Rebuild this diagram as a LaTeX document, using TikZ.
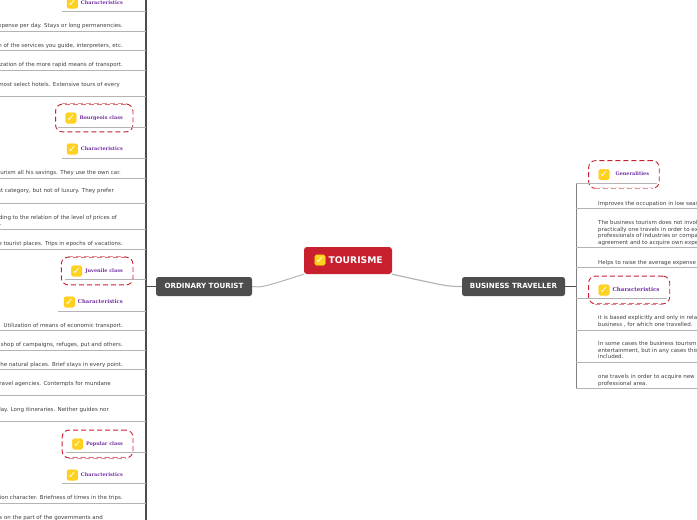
\documentclass[tikz,border=0pt]{standalone}
\usepackage{fontspec}
\setmainfont{DejaVu Sans}
\newfontfamily\labelfont{DejaVu Serif}
\usetikzlibrary{positioning, fit}
\definecolor{topicred}{HTML}{C8202F}
\definecolor{topicgrey}{HTML}{4D4D4D}
\definecolor{rulegrey}{HTML}{B4B4B4}
\definecolor{classpink}{HTML}{E08C98}
\definecolor{labelpurple}{HTML}{7030A0}
\definecolor{tickyellow}{HTML}{FFD21F}

\begin{document}
\begin{tikzpicture}[
    x=1pt, y=-1pt,
    central/.style={fill=topicred, rounded corners=3pt, minimum width=88pt, minimum height=27pt, inner sep=0pt},
    branch/.style={fill=topicgrey, rounded corners=2.5pt, minimum height=19pt, text=white, inner sep=0pt, text height=4pt, text depth=0pt, font=\fontsize{7.1}{8}\selectfont\bfseries},
    rowtext/.style={inner sep=0pt, text=black!75, font=\fontsize{5.5}{6.4}\selectfont, align=left},
    classlabel/.style={inner sep=0pt, text=labelpurple, text height=2.4pt, text depth=0pt, font=\fontsize{4.9}{6}\selectfont\labelfont\bfseries},
    biglabel/.style={classlabel, font=\fontsize{5.5}{6}\selectfont\labelfont\bfseries},
    tickbox/.style={fill=tickyellow, draw=orange!50!yellow, line width=0.3pt, rounded corners=1.5pt, minimum size=10.5pt, inner sep=0pt, text=white, font=\fontsize{10}{10}\selectfont},
    classbox/.style={draw=topicred, dashed, dash pattern=on 5pt off 3pt, line width=0.9pt, rounded corners=7pt, inner xsep=10pt, inner ysep=8.5pt},
    classedge/.style={dash pattern=on 5pt off 3pt, line width=0.9pt},
    rule/.style={draw=rulegrey, line width=0.8pt},
    ltrunk/.style={draw=topicgrey, line width=1.4pt},
    rtrunk/.style={draw=gray, line width=0.8pt},
    link/.style={draw=rulegrey, line width=1pt},
]
\useasboundingbox (0,0) rectangle (697,520);
\clip (0,0) rectangle (697,520);

% Central topic
\node[central] (tourisme) at (348,260.5) {};
\node[tickbox] (tourismetick) at (320,260) {✓};
\node[right=3pt of tourismetick, inner sep=0pt, text=white, font=\fontsize{9.2}{10}\selectfont\bfseries] (tourismetext) {TOURISME};

% Main branches
\node[branch, minimum width=96pt] (ordinary) at (204,286.5) {ORDINARY TOURIST};
\node[branch, minimum width=103pt] (business) at (513.5,286.5) {BUSINESS TRAVELLER};

\draw[link] (ordinary.east) .. controls (262,287.5) .. (tourisme.south west);
\draw[link, line width=1.2pt] (tourisme.south east) .. controls (448,286.5) .. (business.west);

% Trunks
\coordinate (ltop) at (146,-2);
\coordinate (lbot) at (146,522);
\coordinate (rtop) at (576,183);
\coordinate (rbot) at (576,388);
\draw[ltrunk] (ltop) -- (lbot);
\draw[rtrunk] (rtop) -- (rbot);
\draw[ltrunk] (ordinary.west) -- (ordinary.west -| ltop);
\draw[ltrunk] (business.east) -- (business.east -| rtop);

% Left side - heading labels
\node[classlabel, anchor=east] (charone) at (123,3) {Characteristics};
\node[tickbox, left=3pt of charone] (charonetick) {✓};
\node[classlabel, anchor=east] (bourgeois) at (123,118) {Bourgeois class};
\node[tickbox, left=3pt of bourgeois] (bourgeoistick) {✓};
\node[classbox, fit=(bourgeoistick)(bourgeois)] (bourgeoisbox) {};
\node[classlabel, anchor=east] (chartwo) at (123,149) {Characteristics};
\node[tickbox, left=3pt of chartwo] (chartwotick) {✓};
\node[classlabel, anchor=east] (juvenile) at (123,271) {Juvenile class};
\node[tickbox, left=3pt of juvenile] (juveniletick) {✓};
\node[classbox, fit=(juveniletick)(juvenile)] (juvenilebox) {};
\node[classlabel, font=\fontsize{5.25}{6}\selectfont\labelfont\bfseries, anchor=east] (charthree) at (123,302) {Characteristics};
\node[tickbox, left=3pt of charthree] (charthreetick) {✓};
\node[classlabel, anchor=east] (popular) at (123,444) {Popular class};
\node[tickbox, left=3pt of popular] (populartick) {✓};
\node[classbox, fit=(populartick)(popular)] (popularbox) {};
\node[classlabel, anchor=east] (charfour) at (123,475) {Characteristics};
\node[tickbox, left=3pt of charfour] (charfourtick) {✓};

% Left side - rows
\node[rowtext, anchor=east] (rowa) at (123,25.5) {expense per day. Stays or long permanencies.};
\node[rowtext, anchor=east] (rowb) at (123,45.5) {Utilization of the services you guide, interpreters, etc.};
\node[rowtext, anchor=east] (rowc) at (123,64.5) {Utilization of the more rapid means of transport.};
\node[rowtext, anchor=east] (rowd) at (120,84.5) {most select hotels. Extensive tours of every};
\node[rowtext, anchor=east] (rowe) at (121,172.5) {tourism all his savings. They use the own car.};
\node[rowtext, anchor=east] (rowf) at (114,191) {first category, but not of luxury. They prefer};
\node[rowtext, anchor=east] (rowg) at (117,217.5) {According to the relation of the level of prices of};
\node[rowtext, anchor=east] (rowgg) at (1.5,225) {.};
\node[rowtext, anchor=east] (rowh) at (123,243.5) {the tourist places. Trips in epochs of vacations.};
\node[rowtext, anchor=east] (rowi) at (123,325.5) {Utilization of means of economic transport.};
\node[rowtext, anchor=east] (rowj) at (123,344.5) {the shop of campaigns, refuges, put and others.};
\node[rowtext, anchor=east] (rowk) at (123,364.5) {the natural places. Brief stays in every point.};
\node[rowtext, anchor=east] (rowl) at (111,383.5) {travel agencies. Contempts for mundane};
\node[rowtext, anchor=east] (rowm) at (109,409.5) {day. Long itineraries. Neither guides nor};
\node[rowtext, anchor=east] (rown) at (123,497.5) {vacation character. Briefness of times in the trips.};
\node[rowtext, anchor=east] (rowo) at (103,517.5) {efforts on the part of the governments and};

% Left side - rules
\coordinate (la) at (62,11);
\coordinate (lb) at (-2,31);
\coordinate (lc) at (-2,50);
\coordinate (ld) at (-2,70);
\coordinate (le) at (-2,96);
\coordinate (lf) at (58,127);
\coordinate (lg) at (62,158);
\coordinate (lh) at (-2,178);
\coordinate (li) at (-2,203);
\coordinate (lj) at (-2,229);
\coordinate (lk) at (-2,249);
\coordinate (ll) at (65,279);
\coordinate (lm) at (58,311);
\coordinate (ln) at (-2,330);
\coordinate (lo) at (-2,350);
\coordinate (lp) at (-2,369);
\coordinate (lq) at (-2,395);
\coordinate (lr) at (-2,421);
\coordinate (ls) at (66,452);
\coordinate (lt) at (62,483);
\coordinate (lu) at (-2,503);
\draw[rule] (la) -- (la -| ltop) (lb) -- (lb -| ltop) (lc) -- (lc -| ltop) (ld) -- (ld -| ltop);
\draw[rule] (le) -- (le -| ltop) (lf) -- (lf -| ltop) (lg) -- (lg -| ltop) (lh) -- (lh -| ltop);
\draw[rule] (li) -- (li -| ltop) (lj) -- (lj -| ltop) (lk) -- (lk -| ltop) (ll) -- (ll -| ltop);
\draw[rule] (lm) -- (lm -| ltop) (ln) -- (ln -| ltop) (lo) -- (lo -| ltop) (lp) -- (lp -| ltop);
\draw[rule] (lq) -- (lq -| ltop) (lr) -- (lr -| ltop) (ls) -- (ls -| ltop) (lt) -- (lt -| ltop);
\draw[rule] (lu) -- (lu -| ltop);

% Right side - heading labels
\node[tickbox] (generalitiestick) at (604,174.5) {✓};
\node[classlabel, right=6pt of generalitiestick] (generalities) {Generalities};
\node[classbox, fit=(generalitiestick)(generalities)] (generalitiesbox) {};
\node[tickbox] (charfivetick) at (604,290) {✓};
\node[biglabel, right=3pt of charfivetick] (charfive) {Characteristics};
\node[classbox, fit=(charfivetick)(charfive)] (charfivebox) {};

% Right side - rows
\node[rowtext, anchor=west] (rowp) at (598,203.5) {Improves the occupation in low season};
\node[rowtext, anchor=north west] (rowq) at (598,220.5) {The business tourism does not involve\\practically one travels in order to exchange\\professionals of industries or companies\\agreement and to acquire own experience};
\node[rowtext, anchor=west] (rowr) at (598,262.5) {Helps to raise the average expense};
\node[rowtext, anchor=north west] (rows) at (598,315.5) {it is based explicitly and only in relation\\business , for which one travelled.};
\node[rowtext, anchor=north west] (rowt) at (598,341.5) {In some cases the business tourism\\entertainment, but in any cases this\\included.};
\node[rowtext, anchor=north west] (rowu) at (598,374.5) {one travels in order to acquire new\\professional area.};

% Right side - rules
\coordinate (ra) at (657,183);
\coordinate (rb) at (699,208);
\coordinate (rc) at (699,247);
\coordinate (rd) at (699,267);
\coordinate (re) at (667,298);
\coordinate (rf) at (699,330);
\coordinate (rg) at (699,362);
\coordinate (rh) at (699,388);
\draw[rule] (rtop) -- (ra) (rb -| rtop) -- (rb) (rc -| rtop) -- (rc) (rd -| rtop) -- (rd);
\draw[rule] (re -| rtop) -- (re) (rf -| rtop) -- (rf) (rg -| rtop) -- (rg) (rh -| rtop) -- (rh);

% Lighter dashes along one side of each class box
\draw[white, line width=1.2pt] ([xshift=7pt]bourgeoisbox.north west) -- ([xshift=-7pt]bourgeoisbox.north east);
\draw[classpink, classedge] ([xshift=7pt]bourgeoisbox.north west) -- ([xshift=-7pt]bourgeoisbox.north east);
\draw[white, line width=1.2pt] ([xshift=7pt]juvenilebox.north west) -- ([xshift=-7pt]juvenilebox.north east);
\draw[classpink, classedge] ([xshift=7pt]juvenilebox.north west) -- ([xshift=-7pt]juvenilebox.north east);
\draw[white, line width=1.2pt] ([xshift=7pt]popularbox.south west) -- ([xshift=-7pt]popularbox.south east);
\draw[classpink, classedge] ([xshift=7pt]popularbox.south west) -- ([xshift=-7pt]popularbox.south east);
\draw[white, line width=1.2pt] ([xshift=7pt]generalitiesbox.south west) -- ([xshift=-7pt]generalitiesbox.south east);
\draw[classpink, classedge] ([xshift=7pt]generalitiesbox.south west) -- ([xshift=-7pt]generalitiesbox.south east);
\draw[white, line width=1.2pt] ([xshift=7pt]charfivebox.south west) -- ([xshift=-7pt]charfivebox.south east);
\draw[classpink, classedge] ([xshift=7pt]charfivebox.south west) -- ([xshift=-7pt]charfivebox.south east);

\end{tikzpicture}
\end{document}
